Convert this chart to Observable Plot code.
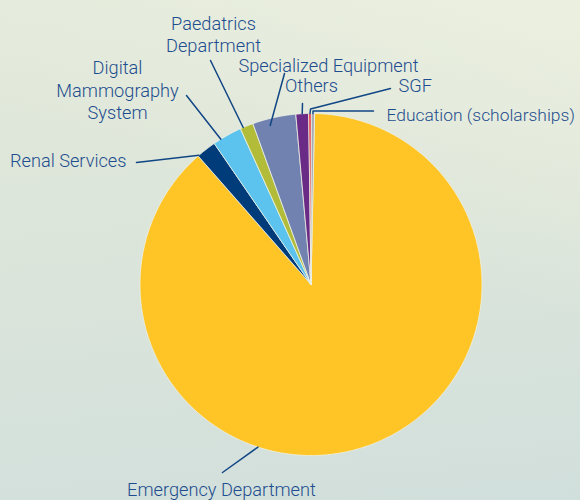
<!DOCTYPE html>
<html>
<head>
<meta charset="utf-8">
<script src="https://cdn.jsdelivr.net/npm/d3@7"></script>
<script src="https://cdn.jsdelivr.net/npm/@observablehq/plot@0.6"></script>
<style>
  html, body { margin: 0; padding: 0; }
  body {
    width: 580px; height: 500px; overflow: hidden;
    background:
      linear-gradient(200deg, rgba(236,240,224,0.9) 0%, rgba(236,240,224,0) 45%),
      linear-gradient(175deg, #e3eadb 0%, #dce5da 45%, #d1dfdc 100%);
  }
  #chart svg { display: block; background: transparent; }
</style>
</head>
<body>
<div id="chart"></div>
<script>
// ---- data ----
const names = ["Emergency Department", "Renal Services", "Digital Mammography System",
  "Paedatrics Department", "Specialized Equipment", "Others", "SGF", "Education (scholarships)"];
const shares = [88.2, 1.9, 2.8, 1.25, 4.1, 1.2, 0.25, 0.3];
const colors = ["#FFC425", "#003B7A", "#5BC3EE", "#B3BC38", "#7282B0", "#6A2B86", "#E8343F", "#A7ABB3"];

// ---- layout (positions/styles) ----
const W = 580, H = 500;
const cx = 310.5, cy = 284, R = 171;
const startOffset = 1.2 * Math.PI / 180;
const labelText = ["Emergency Department", "Renal Services", "Digital\nMammography\nSystem",
  "Paedatrics\nDepartment", "Specialized Equipment", "Others", "SGF", "Education (scholarships)"];
const labelPos = [
  {x: 221, y: 488, a: "middle", s: 18.2},
  {x: 126, y: 159, a: "end", s: 18.2},
  {x: 117, y: 89, a: "middle", s: 18.2},
  {x: 213, y: 33, a: "middle", s: 18.2},
  {x: 328, y: 64, a: "middle", s: 18.2},
  {x: 311, y: 84, a: "middle", s: 18.2},
  {x: 398, y: 84, a: "start", s: 18.2},
  {x: 386, y: 114, a: "start", s: 17.4}
];
// leader lines: label-side points, then anchor on slice (fraction along slice, radius factor)
const leaderStart = [
  [[222, 472]],
  [[136, 162]],
  [[186, 95]],
  [[210, 60]],
  [[284, 73]],
  [[302, 103]],
  [[390, 88], [310, 108.5]],
  [[373, 110.5], [312.5, 110.5]]
];
const leaderAnchor = [[0.62, 1], [0.05, 1], [0.26, 1], [0.22, 1], [0.37, 0.96], [0.5, 1], [0.5, 1], [0.5, 1]];

// ---- geometry from data ----
const arcs = d3.pie().sort(null).startAngle(startOffset).endAngle(startOffset + 2 * Math.PI)(shares);
const pt = (a, r) => [cx + r * Math.sin(a), cy - r * Math.cos(a)];

const slicePts = [];
arcs.forEach((arc, i) => {
  const n = Math.max(2, Math.ceil((arc.endAngle - arc.startAngle) / (0.4 * Math.PI / 180)));
  slicePts.push({name: names[i], color: colors[i], x: cx, y: cy});
  for (let k = 0; k <= n; k++) {
    const a = arc.startAngle + (arc.endAngle - arc.startAngle) * k / n;
    const [x, y] = pt(a, R);
    slicePts.push({name: names[i], color: colors[i], x, y});
  }
  slicePts.push({name: names[i], color: colors[i], x: cx, y: cy});
});

const leaderPts = [];
arcs.forEach((arc, i) => {
  leaderStart[i].forEach(([x, y]) => leaderPts.push({name: names[i], x, y}));
  const [f, rf] = leaderAnchor[i];
  const a = arc.startAngle + (arc.endAngle - arc.startAngle) * f;
  const [x, y] = pt(a, R * rf);
  leaderPts.push({name: names[i], x, y});
});

const labels = names.map((n, i) => ({name: n, text: labelText[i], ...labelPos[i]}));

const textOpts = {
  x: "x", y: "y", text: "text", fontSize: "s",
  fill: "#1d4d8e", fontFamily: "Roboto", fontWeight: 300,
  lineAnchor: "middle", lineHeight: 1.22
};

const chart = Plot.plot({
  width: W, height: H,
  margin: 0,
  x: {domain: [0, W], range: [0, W], axis: null},
  y: {domain: [0, H], range: [0, H], axis: null},
  color: {type: "identity"},
  style: {background: "transparent"},
  marks: [
    Plot.line(slicePts, {x: "x", y: "y", z: "name", fill: "color", stroke: "#eef2e6", strokeWidth: 0.8, curve: "linear"}),
    Plot.line(leaderPts, {x: "x", y: "y", z: "name", stroke: "#114685", strokeWidth: 1.5}),
    Plot.text(labels.filter(d => d.a === "middle"), {...textOpts, textAnchor: "middle"}),
    Plot.text(labels.filter(d => d.a === "start"), {...textOpts, textAnchor: "start"}),
    Plot.text(labels.filter(d => d.a === "end"), {...textOpts, textAnchor: "end"})
  ]
});
document.getElementById("chart").appendChild(chart);
</script>
</body>
</html>
